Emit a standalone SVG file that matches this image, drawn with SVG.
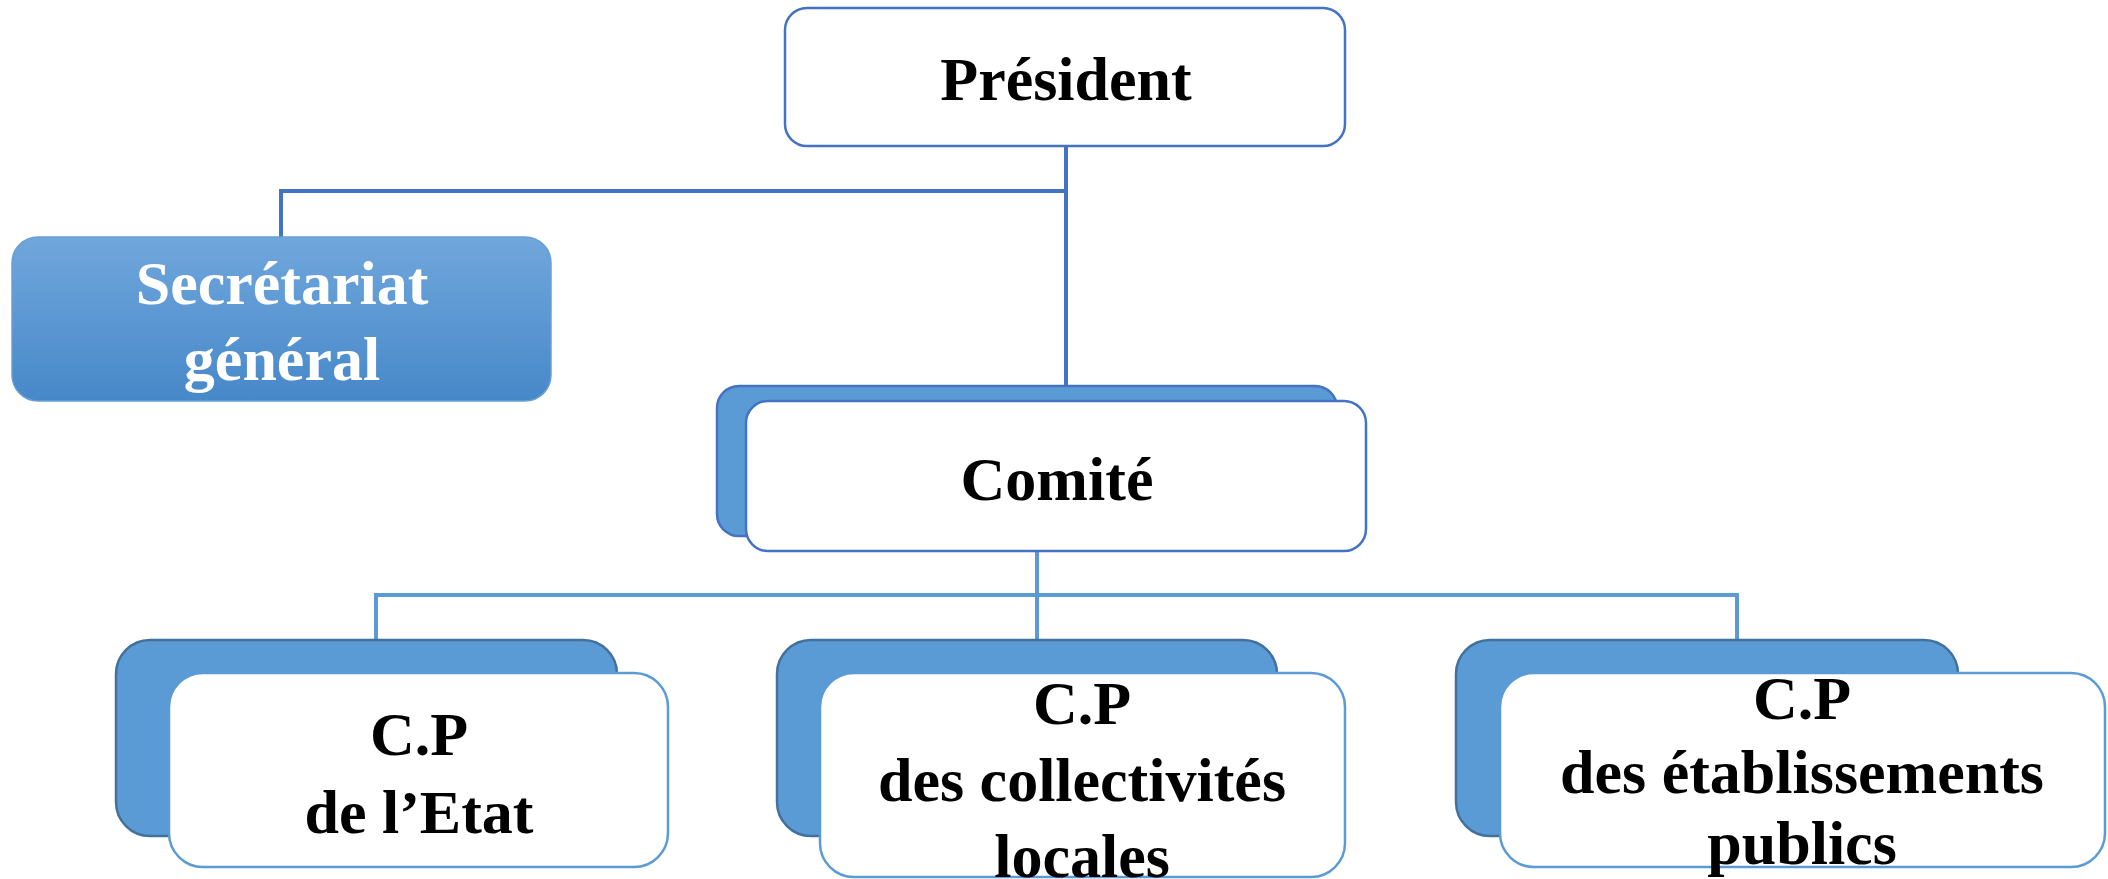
<svg xmlns="http://www.w3.org/2000/svg" width="2108" height="879" viewBox="0 0 2108 879">
<defs>
<linearGradient id="gSec" x1="0" y1="0" x2="0" y2="1">
<stop offset="0" stop-color="#70A7DC"/>
<stop offset="1" stop-color="#4788C9"/>
</linearGradient>
<style>
.t{font-family:"Liberation Serif","Times New Roman",serif;font-weight:bold;font-size:62px;text-anchor:middle;fill:#000}
.w{fill:#fff}
.box{fill:#fff;stroke:#4472C4;stroke-width:2.5}
.back{fill:#5B9BD5;stroke:#4472C4;stroke-width:2.5}
.back2{fill:#5B9BD5;stroke:#41719C;stroke-width:2.5}
.box2{fill:#fff;stroke:#5B9BD5;stroke-width:2.5}
.c1{fill:none;stroke:#4472C4;stroke-width:4}
.c2{fill:none;stroke:#5B9BD5;stroke-width:4}
</style>
</defs>
<rect width="2108" height="879" fill="#fff"/>
<g id="connectors">
<path class="c1" d="M1066,145 V386 M1066,191 H281 V237"/>
<path class="c2" d="M1037,551 V640 M376,640 V595 H1737 V640"/>
</g>
<g id="president">
<rect class="box" x="785" y="8" width="560" height="138" rx="22"/>
<text class="t" x="1066" y="100">Président</text>
</g>
<g id="secretariat">
<rect x="12" y="237" width="539" height="164" rx="26" fill="url(#gSec)" stroke="#6A9FD4" stroke-width="1.5"/>
<text class="t w" x="282" y="304">Secrétariat</text>
<text class="t w" x="282" y="380">général</text>
</g>
<g id="comite">
<rect class="back" x="717" y="386" width="620" height="150" rx="22"/>
<rect class="box" x="746" y="401" width="620" height="150" rx="22"/>
<text class="t" x="1057" y="500">Comité</text>
</g>
<g id="cp-etat">
<rect class="back2" x="116" y="640" width="501" height="196" rx="34"/>
<rect class="box2" x="169" y="673" width="499" height="194" rx="34"/>
<text class="t" x="419" y="755">C.P</text>
<text class="t" x="419" y="833">de l’Etat</text>
</g>
<g id="cp-collectivites">
<rect class="back2" x="777" y="640" width="500" height="196" rx="34"/>
<rect class="box2" x="820" y="673" width="525" height="204" rx="34"/>
<text class="t" x="1082" y="724">C.P</text>
<text class="t" x="1082" y="801">des collectivités</text>
<text class="t" x="1082" y="877">locales</text>
</g>
<g id="cp-etablissements">
<rect class="back2" x="1456" y="640" width="502" height="196" rx="34"/>
<rect class="box2" x="1500" y="673" width="605" height="194" rx="34"/>
<text class="t" x="1802" y="719">C.P</text>
<text class="t" x="1802" y="793">des établissements</text>
<text class="t" x="1802" y="864">publics</text>
</g>
</svg>
